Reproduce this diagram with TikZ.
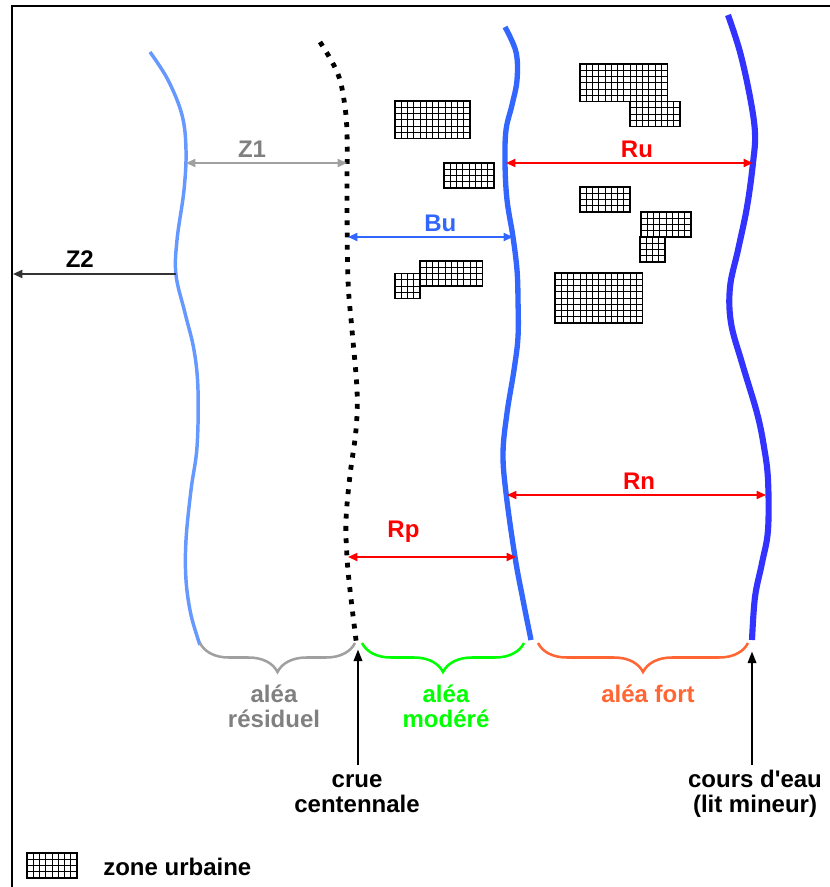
\documentclass[tikz,border=0pt]{standalone}
\usepackage{fontspec}
\setmainfont{Liberation Sans}
\usepackage{tikz}
\usetikzlibrary{arrows.meta}
\usetikzlibrary{decorations.pathreplacing}
\definecolor{bleuclair}{HTML}{6699FF}
\definecolor{bleumoyen}{HTML}{3366FF}
\definecolor{bleufonce}{HTML}{3333FF}
\definecolor{gris}{HTML}{A0A0A0}
\definecolor{grisfonce}{HTML}{808080}
\definecolor{vertvif}{HTML}{00FF00}
\definecolor{orangefort}{HTML}{FF6633}
\definecolor{rouge}{HTML}{FF0000}
\tikzset{
  texte/.style={font=\fontsize{18}{18.75}\selectfont\bfseries, inner sep=0pt, align=center},
  lab/.style={texte, anchor=base, yshift=4pt},
  cote/.style={line width=1.3pt, {Triangle[length=7pt,width=6pt]}-{Triangle[length=7pt,width=6pt]}},
  fleche/.style={line width=2.2pt, -{Triangle[length=9pt,width=6pt]}},
  accolade/.style={line width=1.9pt, decorate, decoration={brace, mirror, amplitude=21.75pt}},
  pointille/.style={line width=3.6pt, dash pattern=on 3.6pt off 5.6pt},
  urbain/.style={line width=0.7pt, step=4.6875pt}
}
\newcommand{\quartier}[4]{%
  \draw[urbain, shift={(#1,#2)}] (0,#4*6.25) grid (#3*6.25,0);
  \draw[urbain, line width=1.1pt] (#1,#2) rectangle ++(#3*6.25,#4*6.25);}

\begin{document}
\begin{tikzpicture}[x=0.75pt,y=-0.75pt]
\useasboundingbox (0,0) rectangle (830,887);
\draw[line width=2pt] (12,887) -- (12,6) -- (830,6);

\draw[bleuclair, line width=2.6pt] plot[smooth, tension=0.6] coordinates {(150,52) (168,80) (182,115) (186,150) (184,190) (177,240) (176,275) (185,313) (194,350) (198,390) (197,447) (191,490) (186,540) (186,580) (191,615) (200,645)};
\draw[pointille] plot[smooth, tension=0.6] coordinates {(320,42) (331,60) (339,77) (344,100) (347,133) (347,200) (348,280) (352,330) (357,390) (356,430) (350,475) (346,520) (347,557) (350,590) (356,640) (357,648)};
\draw[bleumoyen, line width=4pt] plot[smooth, tension=0.6] coordinates {(505,27) (516,52) (517,80) (512,105) (506,130) (505,163) (507,200) (513,237) (517,270) (518,300) (518,337) (514,370) (507,413) (503,453) (506,493) (515,557) (523,600) (531,640)};
\draw[bleufonce, line width=4.6pt] plot[smooth, tension=0.6] coordinates {(728,15) (740,52) (750,97) (755,133) (753,163) (747,207) (738,250) (730,287) (731,323) (742,363) (757,413) (764,447) (768,480) (768,530) (762,563) (755,597) (752,640)};

\quartier{395}{101}{12}{6}
\quartier{444}{163}{8}{4}
\quartier{420}{261}{10}{4}
\quartier{395}{273.5}{4}{4}
\quartier{580}{64}{14}{6}
\quartier{630}{101.5}{8}{4}
\quartier{580}{187}{8}{4}
\quartier{641}{212}{8}{4}
\quartier{640}{237}{4}{4}
\draw[line width=1.9pt] (640,237) rectangle ++(25,25);
\quartier{555}{273}{14}{8}
\quartier{27}{853}{8}{4}

\coordinate (z1g) at (186,163);
\coordinate (z1d) at (347,163);
\coordinate (z2g) at (13,274);
\coordinate (z2d) at (176,274);
\coordinate (bug) at (348,237);
\coordinate (bud) at (513,237);
\coordinate (rug) at (506,163);
\coordinate (rud) at (753,163);
\coordinate (rng) at (507,495);
\coordinate (rnd) at (766,495);
\coordinate (rpg) at (348,557);
\coordinate (rpd) at (516,557);

\draw[cote, gris] (z1g) -- node[lab, pos=.41, grisfonce] {Z1} (z1d);
\draw[cote, -{Triangle[length=7pt,width=6pt]}, black!80] (z2d) -- node[lab, pos=.59, black, yshift=1pt] {Z2} (z2g);
\draw[cote, bleumoyen] (bug) -- node[lab, pos=.56] {Bu} (bud);
\draw[cote, rouge] (rug) -- node[lab, pos=.53] {Ru} (rud);
\draw[cote, rouge] (rng) -- node[lab, pos=.51] {Rn} (rnd);
\draw[cote, rouge] (rpg) -- node[lab, pos=.33, yshift=11pt] {Rp} (rpd);

\coordinate (g1) at (200,643);
\coordinate (g2) at (355,643);
\coordinate (v1) at (362,643);
\coordinate (v2) at (524,643);
\coordinate (o1) at (538,643);
\coordinate (o2) at (748,643);
\draw[accolade, gris] (g1) -- (g2);
\draw[accolade, vertvif] (v1) -- (v2);
\draw[accolade, orangefort] (o1) -- (o2);

\node[texte, grisfonce] (residuel) at (274,706) {aléa\\résiduel};
\node[texte, vertvif] (modere) at (446,706) {aléa\\modéré};
\node[texte, orangefort, anchor=base] (fort) at (648,702) {aléa fort};
\node[texte] (crue) at (357,794) {crue\\centennale};
\node[texte] (cours) at (755,794) {cours d\textquotesingle eau\\(lit mineur)};
\node[texte, anchor=base west] (legende) at (103,875) {zone urbaine};

\coordinate (bcrue) at (358,765);
\coordinate (pcrue) at (358,649);
\coordinate (bcours) at (752,765);
\coordinate (pcours) at (752,651);
\draw[fleche] (bcrue) -- (pcrue);
\draw[fleche] (bcours) -- (pcours);
\end{tikzpicture}
\end{document}
